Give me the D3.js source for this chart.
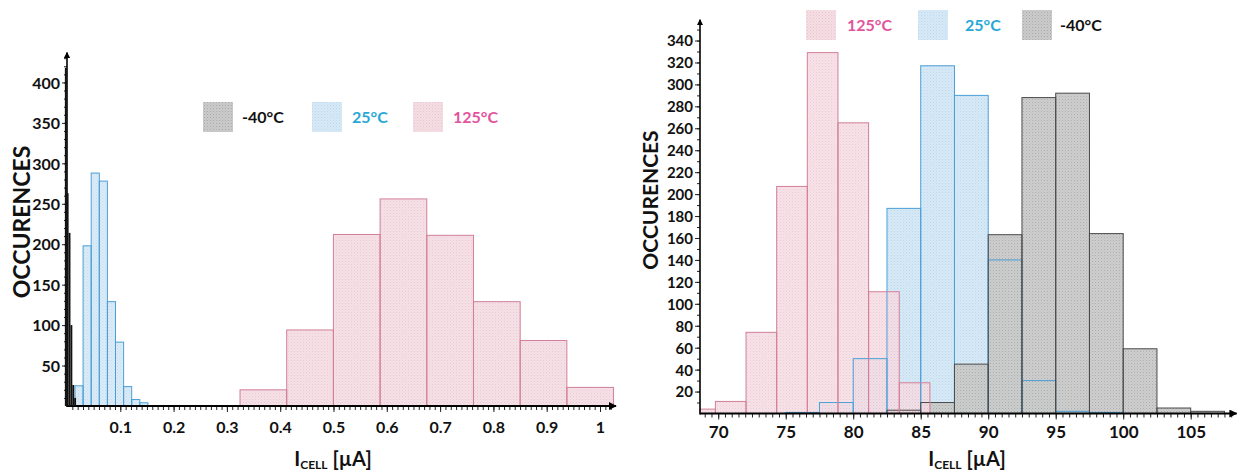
<!DOCTYPE html>
<html><head><meta charset="utf-8">
<script src="https://cdn.jsdelivr.net/npm/d3@7"></script>
<style>
body{margin:0;background:#fff}
text{font-family:Lato,'Open Sans',sans-serif;font-weight:700}
</style></head>
<body><svg id="c" width="1237" height="472"></svg>
<script>
// ---------- LEFT PANEL (I_CELL in µA) ----------
const leftColdCounts = [418, 263, 214, 100, 26, 10];           // -40°C
const leftColdStart = -0.004, leftColdWidth = 0.0035;
const leftRoomCounts = [25, 198, 288, 278, 129, 79, 24, 8, 4];  // 25°C
const leftRoomStart = 0.015, leftRoomWidth = 0.0152;
const leftHotCounts = [20, 94, 212, 256, 211, 129, 81, 23];     // 125°C
const leftHotStart = 0.3246, leftHotWidth = 0.0876;
const leftXTickLabels = [0.1, 0.2, 0.3, 0.4, 0.5, 0.6, 0.7, 0.8, 0.9, 1];
const leftYTickLabels = [50, 100, 150, 200, 250, 300, 350, 400];
const leftLegend = ["-40°C", "25°C", "125°C"];

// ---------- RIGHT PANEL (I_CELL in µA) ----------
const rightHotCounts = [4, 11, 74, 207, 329, 265, 111, 28];     // 125°C
const rightHotStart = 67.52, rightHotWidth = 2.27;
const rightRoomCounts = [1, 10, 50, 187, 317, 290, 140, 30, 2, 1]; // 25°C
const rightRoomStart = 75, rightRoomWidth = 2.5;
const rightColdCounts = [3, 10, 45, 163, 288, 292, 164, 59, 5, 2]; // -40°C
const rightColdStart = 82.5, rightColdWidth = 2.5;
const rightXTickLabels = [70, 75, 80, 85, 90, 95, 100, 105];
const rightYTickLabels = d3.range(20, 341, 20);
const rightLegend = ["125°C", "25°C", "-40°C"];

const colors = {
  hot:  {fill:"#f5dde4", dot:"#e9c3cf", stroke:"#d27f98", text:"#e2549c"},
  room: {fill:"#d7e9f6", dot:"#bcd8ee", stroke:"#4b9fd8", text:"#27a8d6"},
  cold: {fill:"#cbcbcb", dot:"#a9a9a9", stroke:"#4a4a4a", text:"#111"}
};

const svg = d3.select("#c");
const defs = svg.append("defs");
Object.entries(colors).forEach(([k,c])=>{
  const p = defs.append("pattern").attr("id","pat-"+k).attr("patternUnits","userSpaceOnUse")
    .attr("width",3).attr("height",3);
  p.append("rect").attr("width",3).attr("height",3).attr("fill",c.fill);
  p.append("rect").attr("x",0).attr("y",0).attr("width",1).attr("height",1).attr("fill",c.dot);
  p.append("rect").attr("x",1.5).attr("y",1.5).attr("width",1).attr("height",1).attr("fill",c.dot).attr("opacity",0.6);
});
defs.append("marker").attr("id","arrow").attr("viewBox","0 0 10 10").attr("refX",9).attr("refY",5)
  .attr("markerWidth",4).attr("markerHeight",4).attr("orient","auto")
  .append("path").attr("d","M0,0L10,5L0,10z").attr("fill","#000");

function bins(counts, start, width){
  return counts.map((v,i)=>({x0:start+i*width, x1:start+(i+1)*width, v}));
}

function barRects(g, data, x, y, clampMin){
  return g.selectAll("rect").data(data).join("rect")
    .attr("x", d=>x(clampMin!=null ? Math.max(d.x0,clampMin) : d.x0))
    .attr("width", d=>Math.max(0.5, x(d.x1)-x(clampMin!=null ? Math.max(d.x0,clampMin) : d.x0)))
    .attr("y", d=>y(d.v))
    .attr("height", d=>y(0)-y(d.v));
}
function fillLayer(g, data, x, y, key, fo, clampMin, solid){
  barRects(g.append("g"), data, x, y, clampMin)
    .attr("fill", solid || "url(#pat-"+key+")").attr("fill-opacity", fo).attr("stroke","none");
}
function strokeLayer(g, data, x, y, key, clampMin){
  barRects(g.append("g"), data, x, y, clampMin)
    .attr("fill","none").attr("stroke", colors[key].stroke).attr("stroke-width",1);
}

function drawAxes(x, y, o){
  const g = svg.append("g");
  g.append("g").attr("transform",`translate(0,${y(0)})`)
    .call(d3.axisBottom(x).tickValues(o.xMinor).tickSize(4).tickFormat(""))
    .call(s=>s.select(".domain").remove());
  g.append("g").attr("transform",`translate(${x(x.domain()[0])},0)`)
    .call(d3.axisLeft(y).tickValues(o.yMinor).tickSize(3).tickFormat(""))
    .call(s=>s.select(".domain").remove());
  const ax = g.append("g").attr("transform",`translate(0,${y(0)})`)
    .call(d3.axisBottom(x).tickValues(o.xMajor).tickSize(6).tickFormat(o.xFmt))
    .call(s=>s.select(".domain").remove());
  ax.selectAll("text").attr("y", o.xLabelY).attr("dy",0).attr("font-size",o.xFont)
    .attr("fill","#111").attr("font-family","Lato").attr("font-weight",700);
  const ay = g.append("g").attr("transform",`translate(${x(x.domain()[0])},0)`)
    .call(d3.axisLeft(y).tickValues(o.yMajor).tickSize(5).tickFormat(d3.format("d")))
    .call(s=>s.select(".domain").remove());
  ay.selectAll("text").attr("x",-7).attr("dy","0.36em").attr("font-size",o.yFont)
    .attr("fill","#111").attr("font-family","Lato").attr("font-weight",700);
  g.selectAll(".tick line").attr("stroke","#222").attr("stroke-width",1);
  const x0 = x(x.domain()[0]), x1 = x.range()[1], y0 = y(0), y1 = y.range()[1];
  g.append("line").attr("x1",x0).attr("x2",x1).attr("y1",y0).attr("y2",y0)
    .attr("stroke","#000").attr("stroke-width",2).attr("marker-end","url(#arrow)");
  g.append("line").attr("x1",x0).attr("x2",x0).attr("y1",y0+1).attr("y2",y1)
    .attr("stroke","#000").attr("stroke-width",1.6).attr("marker-end","url(#arrow)");
}

function xTitle(cx, baseline){
  const t = svg.append("text").attr("x",cx).attr("y",baseline).attr("text-anchor","middle")
    .attr("font-size",20).attr("fill","#111");
  t.append("tspan").text("I");
  t.append("tspan").attr("font-size",12).attr("dy",3).text("CELL");
  t.append("tspan").attr("dy",-3).text(" [µA]");
}
function yTitle(x, cy, size){
  svg.append("text").attr("transform",`translate(${x},${cy}) rotate(-90)`).attr("text-anchor","middle")
    .attr("font-size",size).attr("fill","#111").text("OCCURENCES");
}
function legend(items, keys, xs, y){
  items.forEach((label,i)=>{
    const k = keys[i];
    svg.append("rect").attr("x",xs[i][0]).attr("y",y).attr("width",30).attr("height",30)
      .attr("fill","url(#pat-"+k+")");
    svg.append("text").attr("x",xs[i][1]).attr("y",y+21).attr("font-size",16)
      .attr("fill",colors[k].text).text(label);
  });
}

// ---------- LEFT ----------
const xL = d3.scaleLinear().domain([0, 1.03]).range([67, 616]);
const yL = d3.scaleLinear().domain([0, 437]).range([406, 52.5]);
const gL = svg.append("g");
const lHot = bins(leftHotCounts, leftHotStart, leftHotWidth);
const lRoom = bins(leftRoomCounts, leftRoomStart, leftRoomWidth);
const lCold = bins(leftColdCounts, leftColdStart, leftColdWidth);
fillLayer(gL, lHot, xL, yL, "hot", 0.9);
strokeLayer(gL, lHot, xL, yL, "hot");
fillLayer(gL, lRoom, xL, yL, "room", 0.9);
strokeLayer(gL, lRoom, xL, yL, "room");
drawAxes(xL, yL, {
  xMinor: d3.range(1, 103).map(i=>i/100), yMinor: d3.range(10, 431, 10),
  xMajor: leftXTickLabels, yMajor: leftYTickLabels,
  xFmt: d=>d===1?"1":d3.format(".1f")(d), xLabelY: 27, xFont: 16, yFont: 16
});
fillLayer(svg.append("g"), lCold, xL, yL, "cold", 1, null, "#111");
xTitle(333, 466);
yTitle(30, 222, 23);
legend(leftLegend, ["cold","room","hot"], [[203,242],[312,352],[413,453]], 102);

// ---------- RIGHT ----------
const xR = d3.scaleLinear().domain([68.65, 108.4]).range([700, 1236.6]);
const yR = d3.scaleLinear().domain([0, 359]).range([413.5, 19.7]);
const gR = svg.append("g");
const dmin = xR.domain()[0];
const rHot = bins(rightHotCounts, rightHotStart, rightHotWidth);
const rRoom = bins(rightRoomCounts, rightRoomStart, rightRoomWidth);
const rCold = bins(rightColdCounts, rightColdStart, rightColdWidth);
fillLayer(gR, rRoom, xR, yR, "room", 1, dmin);
fillLayer(gR, rCold, xR, yR, "cold", 0.95, dmin);
fillLayer(gR, rHot, xR, yR, "hot", 0.85, dmin);
strokeLayer(gR, rRoom, xR, yR, "room", dmin);
strokeLayer(gR, rCold, xR, yR, "cold", dmin);
strokeLayer(gR, rHot, xR, yR, "hot", dmin);
drawAxes(xR, yR, {
  xMinor: d3.range(69, 108.01, 0.5), yMinor: d3.range(10, 351, 10),
  xMajor: rightXTickLabels, yMajor: rightYTickLabels,
  xFmt: d3.format("d"), xLabelY: 24, xFont: 17, yFont: 15
});
xTitle(967, 466);
yTitle(658, 200, 21);
legend(rightLegend, ["hot","room","cold"], [[806,847],[918,965],[1022,1060]], 10);
</script></body></html>
